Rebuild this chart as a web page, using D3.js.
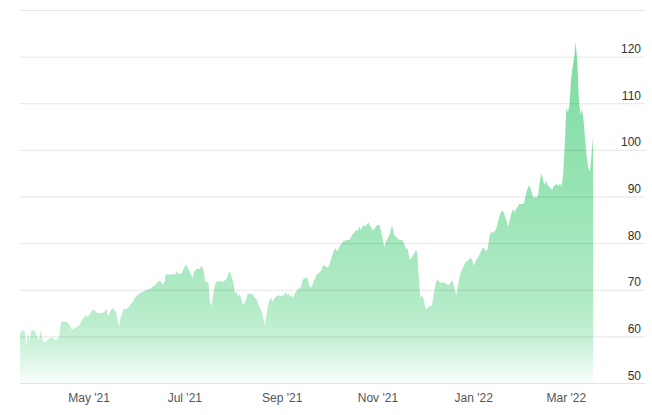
<!DOCTYPE html>
<html><head><meta charset="utf-8">
<script src="https://cdn.jsdelivr.net/npm/d3@7"></script>
<style>body{margin:0;background:#fff}svg{display:block}text{font-family:"Liberation Sans",Arial,sans-serif}</style>
</head><body><svg id="chart" width="652" height="415"></svg>
<script>
const dates = [
"2021-03-18","2021-03-19","2021-03-21","2021-03-22","2021-03-23","2021-03-24","2021-03-25","2021-03-27","2021-03-28","2021-03-30","2021-03-31",
"2021-04-02","2021-04-04","2021-04-05","2021-04-07","2021-04-09","2021-04-10","2021-04-12","2021-04-13","2021-04-14","2021-04-17","2021-04-18","2021-04-20","2021-04-21","2021-04-23","2021-04-25","2021-04-26","2021-04-27","2021-04-29","2021-04-30",
"2021-05-02","2021-05-03","2021-05-05","2021-05-06","2021-05-08","2021-05-09","2021-05-11","2021-05-12","2021-05-13","2021-05-15","2021-05-16","2021-05-18","2021-05-19","2021-05-20","2021-05-21","2021-05-23","2021-05-25","2021-05-27","2021-05-28","2021-05-29","2021-05-30",
"2021-06-01","2021-06-02","2021-06-04","2021-06-07","2021-06-09","2021-06-11","2021-06-13","2021-06-14","2021-06-16","2021-06-17","2021-06-18","2021-06-19","2021-06-21","2021-06-23","2021-06-24","2021-06-25","2021-06-26","2021-06-27","2021-06-29",
"2021-07-01","2021-07-02","2021-07-03","2021-07-05","2021-07-06","2021-07-07","2021-07-09","2021-07-10","2021-07-12","2021-07-13","2021-07-14","2021-07-16","2021-07-17","2021-07-18","2021-07-19","2021-07-20","2021-07-21","2021-07-23","2021-07-25","2021-07-27","2021-07-28","2021-07-29","2021-07-30","2021-07-31",
"2021-08-01","2021-08-02","2021-08-03","2021-08-04","2021-08-05","2021-08-06","2021-08-07","2021-08-09","2021-08-10","2021-08-13","2021-08-14","2021-08-16","2021-08-17","2021-08-19","2021-08-20","2021-08-21","2021-08-22","2021-08-23","2021-08-24","2021-08-25","2021-08-26","2021-08-27","2021-08-28","2021-08-30","2021-08-31",
"2021-09-01","2021-09-02","2021-09-03","2021-09-04","2021-09-05","2021-09-06","2021-09-07","2021-09-08","2021-09-09","2021-09-10","2021-09-11","2021-09-12","2021-09-13","2021-09-14","2021-09-16","2021-09-17","2021-09-18","2021-09-19","2021-09-20","2021-09-21","2021-09-22","2021-09-23","2021-09-24","2021-09-26","2021-09-27","2021-09-28","2021-09-30",
"2021-10-01","2021-10-02","2021-10-03","2021-10-04","2021-10-05","2021-10-06","2021-10-07","2021-10-08","2021-10-09","2021-10-10","2021-10-11","2021-10-12","2021-10-14","2021-10-15","2021-10-16","2021-10-17","2021-10-18","2021-10-19","2021-10-20","2021-10-21","2021-10-22","2021-10-23","2021-10-24","2021-10-25","2021-10-26","2021-10-27","2021-10-29","2021-10-30","2021-10-31",
"2021-11-01","2021-11-02","2021-11-03","2021-11-04","2021-11-05","2021-11-06","2021-11-08","2021-11-09","2021-11-10","2021-11-11","2021-11-12","2021-11-13","2021-11-14","2021-11-16","2021-11-17","2021-11-18","2021-11-19","2021-11-20","2021-11-21","2021-11-23","2021-11-24","2021-11-25","2021-11-26","2021-11-27","2021-11-28","2021-11-29","2021-11-30",
"2021-12-01","2021-12-02","2021-12-03","2021-12-04","2021-12-05","2021-12-06","2021-12-07","2021-12-08","2021-12-09","2021-12-10","2021-12-11","2021-12-12","2021-12-13","2021-12-14","2021-12-15","2021-12-16","2021-12-17","2021-12-18","2021-12-19","2021-12-20","2021-12-21","2021-12-22","2021-12-23","2021-12-24","2021-12-25","2021-12-26","2021-12-27","2021-12-29","2021-12-30","2021-12-31",
"2022-01-01","2022-01-02","2022-01-04","2022-01-05","2022-01-07","2022-01-08","2022-01-09","2022-01-10","2022-01-11","2022-01-12","2022-01-13","2022-01-15","2022-01-16","2022-01-17","2022-01-18","2022-01-19","2022-01-20","2022-01-21","2022-01-22","2022-01-23","2022-01-24","2022-01-25","2022-01-26","2022-01-27","2022-01-28","2022-01-29","2022-01-30",
"2022-02-01","2022-02-02","2022-02-03","2022-02-04","2022-02-05","2022-02-06","2022-02-07","2022-02-08","2022-02-09","2022-02-10","2022-02-11","2022-02-12","2022-02-13","2022-02-14","2022-02-15","2022-02-16","2022-02-17","2022-02-19","2022-02-20","2022-02-21","2022-02-22","2022-02-23","2022-02-24","2022-02-25","2022-02-26","2022-02-27","2022-02-28",
"2022-03-01","2022-03-02","2022-03-03","2022-03-04","2022-03-05","2022-03-06","2022-03-07","2022-03-08","2022-03-09","2022-03-10","2022-03-11","2022-03-12","2022-03-13","2022-03-14","2022-03-15","2022-03-16","2022-03-17","2022-03-18"
];
const prices = [
60.6,61.3,61.3,57.8,61.0,59.1,61.3,61.5,60.8,59.3,61.3,
58.7,59.1,59.5,59.9,59.5,59.3,60.0,63.2,63.3,63.2,62.8,61.6,61.7,62.1,62.5,63.4,63.8,64.8,64.2,
65.1,65.8,65.6,65.1,65.1,65.1,65.4,66.1,64.3,65.8,66.2,65.4,64.0,62.2,64.0,65.9,66.1,66.6,67.3,67.5,68.3,
69.0,69.3,69.7,70.1,70.4,70.9,71.5,72.0,71.9,71.1,71.9,73.5,73.3,73.5,73.3,73.5,74.0,73.5,73.6,
75.2,75.4,74.7,73.3,72.6,74.0,74.7,74.5,75.2,74.3,71.8,71.6,67.5,66.6,69.0,70.9,71.8,72.0,71.8,72.2,72.9,73.8,73.8,72.6,
71.5,69.3,69.7,68.6,69.2,68.1,66.8,67.9,69.3,69.2,68.6,67.9,66.8,65.4,64.0,62.5,64.7,66.8,67.9,68.3,67.5,68.3,68.6,69.0,68.6,
69.0,68.8,69.7,69.0,69.3,68.6,69.0,68.3,69.3,69.7,70.2,70.4,70.8,72.2,72.8,72.6,71.5,70.6,70.9,71.8,72.6,73.3,73.6,74.3,75.4,75.2,74.9,
75.4,76.5,77.6,78.6,79.0,78.3,79.0,79.7,80.1,80.6,80.6,80.8,80.9,81.5,82.1,82.3,82.9,82.6,83.6,82.9,83.5,84.0,83.6,84.2,84.5,83.8,82.8,83.3,83.8,
84.0,84.0,82.6,81.1,79.2,80.4,81.6,82.6,84.0,82.3,81.5,81.4,80.9,80.8,80.6,79.7,78.8,79.0,76.5,77.2,77.9,78.5,78.3,72.9,68.3,69.0,68.3,
66.5,65.9,66.3,66.6,66.5,67.9,70.1,71.8,72.3,71.8,71.5,71.8,71.5,71.6,71.1,71.1,71.5,72.2,71.5,70.1,69.0,71.1,72.9,74.0,74.7,75.4,76.1,76.5,76.9,76.6,
75.2,76.1,77.2,77.9,79.2,78.8,78.3,79.0,81.4,82.6,82.3,82.9,84.0,85.4,86.5,87.1,86.8,85.8,84.7,83.6,85.1,86.5,87.4,86.8,87.4,87.9,88.5,
88.5,88.7,90.1,91.5,92.4,92.1,90.9,89.7,90.1,89.9,90.4,92.9,95.1,94.0,92.6,93.5,92.6,91.9,91.5,92.4,92.6,92.8,92.4,92.9,92.2,94.7,101.2,
109.1,108.2,109.7,115.1,117.9,119.8,123.2,118.7,110.8,107.6,108.9,106.5,102.2,98.6,96.2,95.4,99.0,102.7
];
const gridValues = [50,60,70,80,90,100,110,120,130];
const yTickLabels = [50,60,70,80,90,100,110,120];
const xTickDates = ["2021-05-01","2021-07-01","2021-09-01","2021-11-01","2022-01-01","2022-03-01"];
const xTickLabels = ["May '21","Jul '21","Sep '21","Nov '21","Jan '22","Mar '22"];

const parse = d3.utcParse("%Y-%m-%d");
const data = dates.map((d,i)=>({date:parse(d), value:prices[i]}));

const svg = d3.select("#chart");
const x = d3.scaleUtc().domain([parse("2021-03-18"), parse("2022-03-18")]).range([20, 593]);
const y = d3.scaleLinear().domain([50,130]).range([383.5, 10.5]);
const gridLeft = 20, gridRight = 645;

const defs = svg.append("defs");
const grad = defs.append("linearGradient").attr("id","g")
  .attr("gradientUnits","userSpaceOnUse").attr("x1",0).attr("x2",0)
  .attr("y1", y(124)).attr("y2", y(50));
[[0,0.6],[0.47,0.46],[0.76,0.35],[0.87,0.26],[0.96,0.1],[1,0.02]].forEach(([o,a])=>{
  grad.append("stop").attr("offset",o).attr("stop-color","rgb(34,197,94)").attr("stop-opacity",a);
});

const area = d3.area().x(d=>x(d.date)).y0(y(50)).y1(d=>y(d.value)).curve(d3.curveLinear);
svg.append("path").datum(data).attr("d",area).attr("fill","url(#g)");

svg.append("g").selectAll("line").data(gridValues).join("line")
  .attr("x1",gridLeft).attr("x2",gridRight)
  .attr("y1",d=>y(d)).attr("y2",d=>y(d))
  .attr("stroke","rgba(0,0,0,0.1)").attr("stroke-width",1);

svg.append("g").selectAll("text").data(yTickLabels).join("text")
  .attr("x",641).attr("y",d=>y(d)-4)
  .attr("text-anchor","end").attr("font-size","12px").attr("fill","#333")
  .text(d=>d);

svg.append("g").selectAll("text").data(xTickDates).join("text")
  .attr("x",d=>x(parse(d))).attr("y",402)
  .attr("text-anchor","middle").attr("font-size","12px").attr("fill","#555")
  .text((d,i)=>xTickLabels[i]);
</script></body></html>
